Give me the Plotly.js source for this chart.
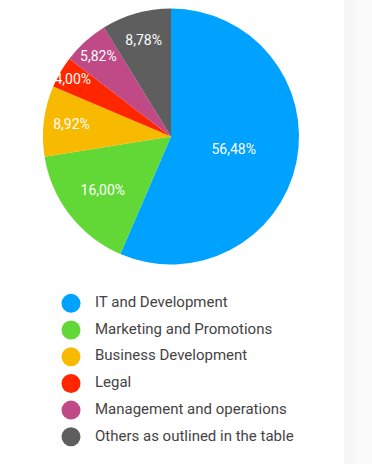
<!DOCTYPE html>
<html>
<head>
<meta charset="utf-8">
<script src="https://cdn.plot.ly/plotly-3.0.1.min.js"></script>
<style>html,body{margin:0;padding:0;background:#fff;}#chart{width:372px;height:464px;}</style>
</head>
<body>
<div id="chart"></div>
<script>
const categories = ["IT and Development", "Marketing and Promotions", "Business Development", "Legal", "Management and operations", "Others as outlined in the table"];
const shares = [56.48, 16.00, 8.92, 4.00, 5.82, 8.78];
const colors = ["#00a2ff", "#61d836", "#f8ba00", "#ff2600", "#c04a85", "#5e5e5e"];

const labelsText = shares.map(v => v.toFixed(2).replace('.', ',') + '%');
const legendY = categories.map((c, i) => -i);

const pie = {
  type: 'pie',
  labels: categories,
  values: shares,
  text: labelsText,
  textinfo: 'text',
  textposition: 'inside',
  insidetextorientation: 'horizontal',
  insidetextfont: {family: 'Roboto', size: 14, color: '#ffffff'},
  marker: {colors: colors, line: {width: 0}},
  sort: false,
  direction: 'clockwise',
  rotation: 0,
  hole: 0,
  showlegend: false,
  domain: {x: [43/372, 299/372], y: [1 - 265/464, 1 - 8/464]},
  hoverinfo: 'none'
};

const legendMarkers = {
  type: 'scatter',
  mode: 'markers',
  x: categories.map(() => 0),
  y: legendY,
  marker: {size: 19, color: colors, line: {width: 0}},
  xaxis: 'x', yaxis: 'y',
  showlegend: false, hoverinfo: 'none'
};
const legendText = {
  type: 'scatter',
  mode: 'text',
  x: categories.map(() => 1),
  y: legendY,
  text: categories,
  textposition: 'middle right',
  textfont: {family: 'Roboto', size: 15, color: '#444444'},
  xaxis: 'x', yaxis: 'y',
  showlegend: false, hoverinfo: 'none'
};

const layout = {
  width: 372, height: 464,
  margin: {l: 0, r: 0, t: 0, b: 0},
  paper_bgcolor: '#ffffff',
  plot_bgcolor: 'rgba(0,0,0,0)',
  showlegend: false,
  uniformtext: {minsize: 14, mode: 'show'},
  xaxis: {domain: [0, 1], range: [-71/24, -71/24 + 372/24], visible: false, fixedrange: true},
  yaxis: {domain: [0, 1], range: [-6.02, 11.37], visible: false, fixedrange: true},
  shapes: [
    {type: 'rect', xref: 'paper', yref: 'paper', x0: 344/372, x1: 356/372, y0: 0, y1: 1, fillcolor: '#f6f7f7', line: {width: 0}, layer: 'below'},
    {type: 'rect', xref: 'paper', yref: 'paper', x0: 356/372, x1: 1, y0: 0, y1: 1, fillcolor: '#fbfbfb', line: {width: 0}, layer: 'below'}
  ]
};

Plotly.newPlot('chart', [pie, legendMarkers, legendText], layout, {staticPlot: true, displayModeBar: false});
</script>
</body>
</html>
